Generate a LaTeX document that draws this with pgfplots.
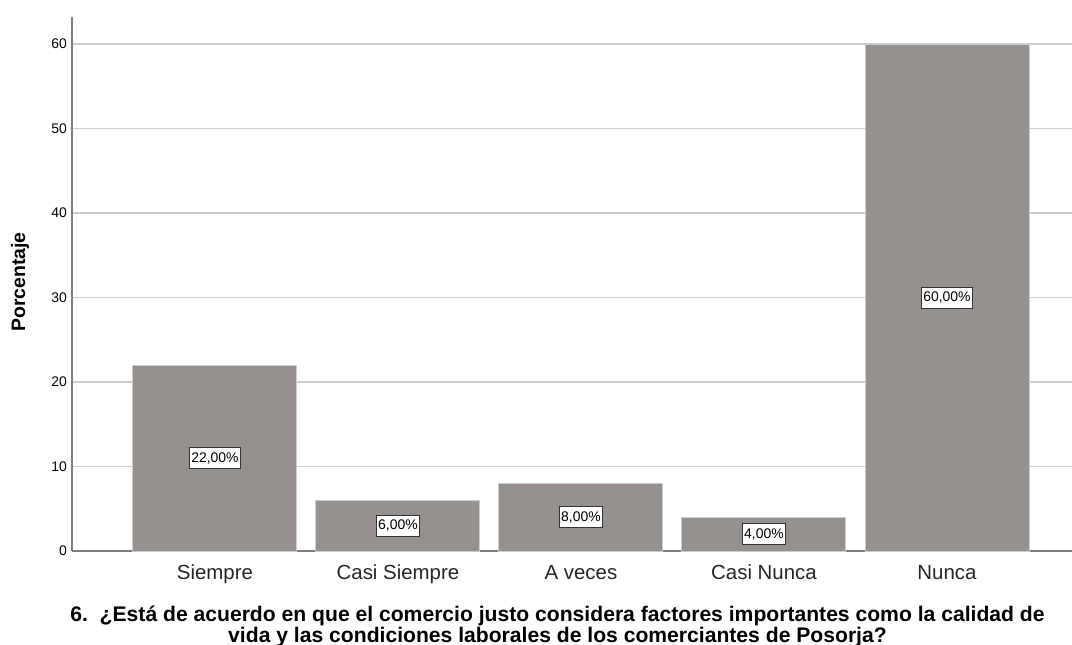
\documentclass[border=0pt]{standalone}
\usepackage{pgfplots}
\pgfplotsset{compat=1.18}
\usepackage{fontspec}
\setmainfont{Liberation Sans}
\definecolor{barfill}{RGB}{150,145,143}
\definecolor{baredge}{RGB}{205,205,205}
\definecolor{gridc}{RGB}{205,205,205}
\definecolor{axisc}{RGB}{125,125,125}
\begin{document}
\begin{tikzpicture}
\begin{axis}[
  at={(0,0)}, anchor=south west,
  scale only axis, width=1000bp, height=534bp,
  xmin=-0.781, xmax=4.683, ymin=0, ymax=63.2,
  axis x line*=bottom, axis y line*=left,
  axis line style={color=axisc, line width=1.2bp},
  xtick={0,1,2,3,4},
  xticklabels={Siempre, Casi Siempre, A veces, Casi Nunca, Nunca},
  ytick={0,10,20,30,40,50,60},
  major tick length=0pt,
  ymajorgrids, grid style={color=gridc, line width=1.2bp},
  /pgf/number format/assume math mode=true,
  yticklabel style={font=\fontsize{14}{16}\selectfont, color=black, xshift=-1.5bp},
  xticklabel style={font=\fontsize{20.5}{24}\selectfont, color=black!85,
    text height=15.5bp, text depth=4.5bp, yshift=-9bp},
  clip=false,
]
\addplot[ybar, bar width=164bp, fill=barfill, draw=baredge, line width=1bp]
  coordinates {(0,22) (1,6) (2,8) (3,4) (4,60)};
\addplot[draw=none, mark=none, point meta=explicit symbolic,
  nodes near coords,
  every node near coord/.style={anchor=center, fill=white, draw=black!80, line width=0.9bp,
    font=\fontsize{14}{16}\selectfont, inner sep=1.8bp, minimum height=21bp}]
  table[meta=lab] {
x y lab
0 11 22,00\%
1 3 6,00\%
2 4 8,00\%
3 2 4,00\%
4 30 60,00\%
};
\end{axis}
\node[rotate=90, font=\bfseries\fontsize{19.5}{22}\selectfont] at (-52bp,269bp) {Porcentaje};
\node[anchor=base, font=\bfseries\fontsize{21.2}{24}\selectfont] at (485.5bp,-70.5bp)
  {6.\ \ ¿Está de acuerdo en que el comercio justo considera factores importantes como la calidad de};
\node[anchor=base, font=\bfseries\fontsize{21.2}{24}\selectfont] at (485.5bp,-91bp)
  {vida y las condiciones laborales de los comerciantes de Posorja?};
\pgfresetboundingbox
\useasboundingbox (-72bp,-94bp) rectangle (1000bp,551bp);
\end{tikzpicture}
\end{document}
